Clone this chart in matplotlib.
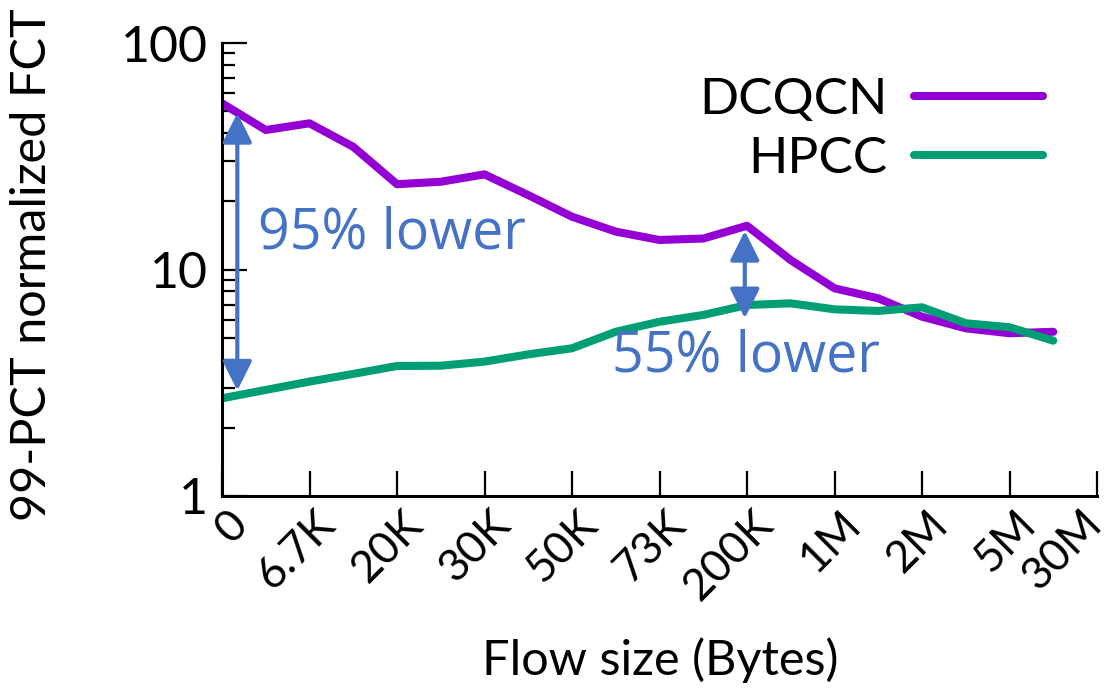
import matplotlib
matplotlib.use("Agg")
import matplotlib.pyplot as plt
import matplotlib.transforms as mtransforms
from matplotlib.patches import ArrowStyle
import numpy as np

# 99-pct normalized FCT per flow-size bucket
dcqcn = [54.2, 41.3, 44.2, 34.8, 23.8, 24.4, 26.3, 21.3, 17.1, 14.7,
         13.5, 13.7, 15.6, 11.0, 8.26, 7.46, 6.19, 5.50, 5.23, 5.31]
hpcc = [2.70, 2.94, 3.20, 3.46, 3.75, 3.76, 3.92, 4.22, 4.49, 5.31,
        5.88, 6.30, 6.97, 7.09, 6.67, 6.56, 6.81, 5.79, 5.56, 4.85]
tick_labels = ["0", "6.7K", "20K", "30K", "50K", "73K", "200K",
               "1M", "2M", "5M", "30M"]

# annotation arrows: (x, low, high)
gap_big = (0.35, 2.92, 49.1)
gap_small = (11.95, 6.09, 14.8)

W, H = 1107, 689
fig = plt.figure(figsize=(W / 100, H / 100), dpi=100)
ax = fig.add_axes([222 / W, 1 - 496 / H, (1097 - 222) / W, (496 - 43) / H])

font = "Lato"
blue = "#4472C4"

x = np.arange(len(dcqcn))
ax.plot(x, dcqcn, color="#9400D3", lw=5.8, label="DCQCN",
        solid_capstyle="round", solid_joinstyle="round")
ax.plot(x, hpcc, color="#009E73", lw=5.8, label="HPCC",
        solid_capstyle="round", solid_joinstyle="round")

ax.set_yscale("log")
ax.set_ylim(1, 100)
ax.set_xlim(0, 20)
ax.set_yticks([1, 10, 100])
ax.set_yticklabels(["1", "10", "100"], fontfamily=font, fontsize=36)
ax.set_xticks(np.arange(0, 21, 2))
ax.set_xticklabels(tick_labels, fontfamily=font, fontsize=32, rotation=45,
                   ha="right", va="top", rotation_mode="anchor")

ax.tick_params(axis="both", which="major", direction="in", length=18, width=1.6)
ax.tick_params(axis="y", which="minor", direction="in", length=9.5, width=1.6)
ax.tick_params(axis="x", which="major", pad=5)
ax.tick_params(axis="y", which="major", pad=10)
ax.spines["top"].set_visible(False)
ax.spines["right"].set_visible(False)
ax.spines["left"].set_linewidth(2.2)
ax.spines["bottom"].set_linewidth(2.2)

# shift rotated labels a bit to the right like the original,
# the last one to the left so it stays inside the figure
# (done after tick_params, which resets the label transforms)
labels = ax.get_xticklabels()
for i, lbl in enumerate(labels):
    dx = 5 if i < len(labels) - 1 else -16
    offset = mtransforms.ScaledTranslation(dx / 100, 0, fig.dpi_scale_trans)
    lbl.set_transform(lbl.get_transform() + offset)

# gap arrows
style = ArrowStyle("<|-|>", head_length=18, head_width=9)
for gx, lo, hi in (gap_big, gap_small):
    ax.annotate("", xy=(gx, hi), xytext=(gx, lo),
                arrowprops=dict(arrowstyle=style, color=blue, lw=3,
                                shrinkA=0, shrinkB=0, mutation_scale=1))

ax.text(0.82, 12.4, "95% lower", color=blue, fontfamily="Open Sans",
        fontsize=40, ha="left", va="baseline")
ax.text(8.91, 3.53, "55% lower", color=blue, fontfamily="Open Sans",
        fontsize=40, ha="left", va="baseline")

leg = ax.legend(loc="upper right", bbox_to_anchor=(1043 / W, 1 - 77 / H),
                bbox_transform=fig.transFigure, frameon=False,
                markerfirst=False, handlelength=2.51, handletextpad=0.52,
                borderpad=0, borderaxespad=0, labelspacing=0.26,
                prop={"family": font, "size": 37})

fig.text(660 / W, 1 - 660 / H, "Flow size (Bytes)", fontfamily=font,
         fontsize=35, ha="center", va="center")
fig.text(32 / W, 1 - 265 / H, "99-PCT normalized FCT", fontfamily=font,
         fontsize=35, ha="center", va="center", rotation=90)

fig.savefig("out.png", dpi=100)
